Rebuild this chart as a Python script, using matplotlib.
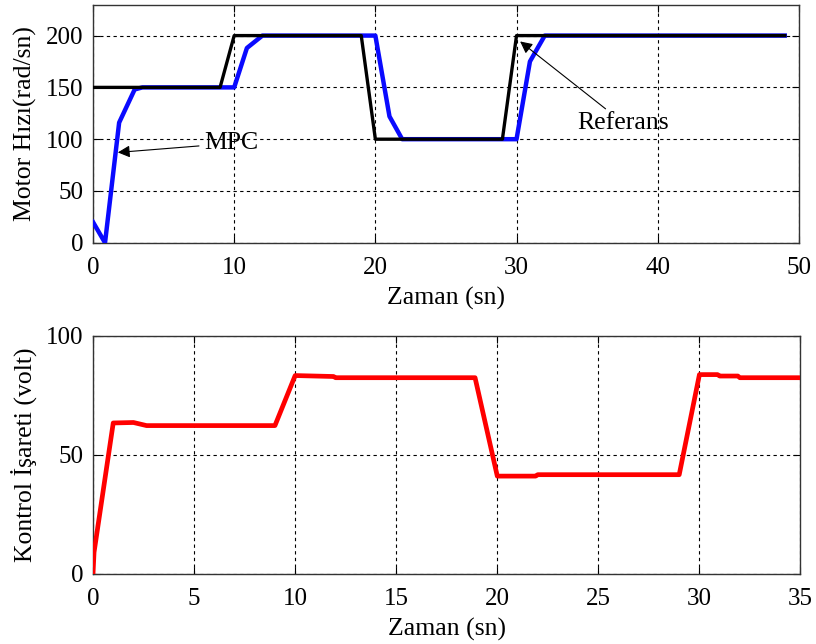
import matplotlib
matplotlib.use("Agg")
import matplotlib.pyplot as plt

# =====================
# data
# =====================
ref_t = [0, 9, 10, 19, 20, 29, 30, 49]
ref_w = [150, 150, 200, 200, 100, 100, 200, 200]

mpc_t = [0, 0.85, 1.85, 2.95, 3.5, 10, 10.9, 12, 20, 21, 21.9, 30, 30.95, 32, 49]
mpc_w = [20, 0, 116, 148, 150, 150, 188, 200, 200, 122, 100, 100, 175, 200, 200]

u_t = [0, 0.05, 1, 2, 2.65, 9, 10, 11.9, 12, 18.9, 20, 21.9, 22, 29, 30, 30.9, 31, 31.9, 32, 35]
u_v = [0, 9, 63.3, 63.5, 62.2, 62.2, 83.2, 82.8, 82.3, 82.3, 41, 41, 41.6, 41.6, 83.6, 83.6, 83, 83, 82.3, 82.3]

top_xticks = [0, 10, 20, 30, 40, 50]
top_yticks = [0, 50, 100, 150, 200]
bot_xticks = [0, 5, 10, 15, 20, 25, 30, 35]
bot_yticks = [0, 50, 100]

plt.rcParams['font.family'] = ['Liberation Serif', 'DejaVu Serif']
plt.rcParams['font.size'] = 18

fig = plt.figure(figsize=(8.16, 6.44), dpi=100)
ax1 = fig.add_axes([0.114, 0.623, 0.865, 0.370])
ax2 = fig.add_axes([0.114, 0.109, 0.867, 0.370])

grid_kw = dict(color='black', linestyle=(0, (3, 3)), linewidth=0.8)
lab_fs = 18.5

# =====================
# motor speed
# =====================
ax1.plot(mpc_t, mpc_w, color='#0a0aff', linewidth=3.2, zorder=3)
ax1.plot(ref_t, ref_w, color='black', linewidth=2.4, zorder=4)
ax1.set_xlim(0, 50)
ax1.set_ylim(0, 230)
ax1.set_xticks(top_xticks)
ax1.set_yticks(top_yticks)
ax1.grid(True, **grid_kw)
ax1.set_xlabel("Zaman (sn)", fontsize=lab_fs, labelpad=6)
ax1.set_ylabel("Motor Hızı(rad/sn)", fontsize=lab_fs, labelpad=6)

ax1.annotate("MPC", xy=(1.56, 87), xytext=(7.9, 96), fontsize=lab_fs,
             va='center', ha='left', zorder=5,
             arrowprops=dict(arrowstyle='-|>', color='black', lw=0.8,
                             mutation_scale=18))
ax1.annotate("Referans", xy=(30.1, 196), xytext=(34.3, 116), fontsize=lab_fs,
             va='center', ha='left', zorder=5,
             arrowprops=dict(arrowstyle='-|>', color='black', lw=0.8,
                             mutation_scale=18, shrinkA=0))

# =====================
# control signal
# =====================
ax2.plot(u_t, u_v, color='#ff0000', linewidth=3.4, zorder=3)
ax2.set_xlim(0, 35)
ax2.set_ylim(0, 100)
ax2.set_xticks(bot_xticks)
ax2.set_yticks(bot_yticks)
ax2.grid(True, **grid_kw)
ax2.set_xlabel("Zaman (sn)", fontsize=lab_fs, labelpad=6)
ax2.set_ylabel("Kontrol İşareti (volt)", fontsize=lab_fs, labelpad=6)

for ax in (ax1, ax2):
    ax.tick_params(direction='in', top=True, right=True, length=5)
    ax.tick_params(axis='x', pad=10)
    ax.tick_params(axis='y', pad=7)
    for s in ax.spines.values():
        s.set_color('#333333')
        s.set_linewidth(1.0)

fig.savefig("out.png", dpi=100)
